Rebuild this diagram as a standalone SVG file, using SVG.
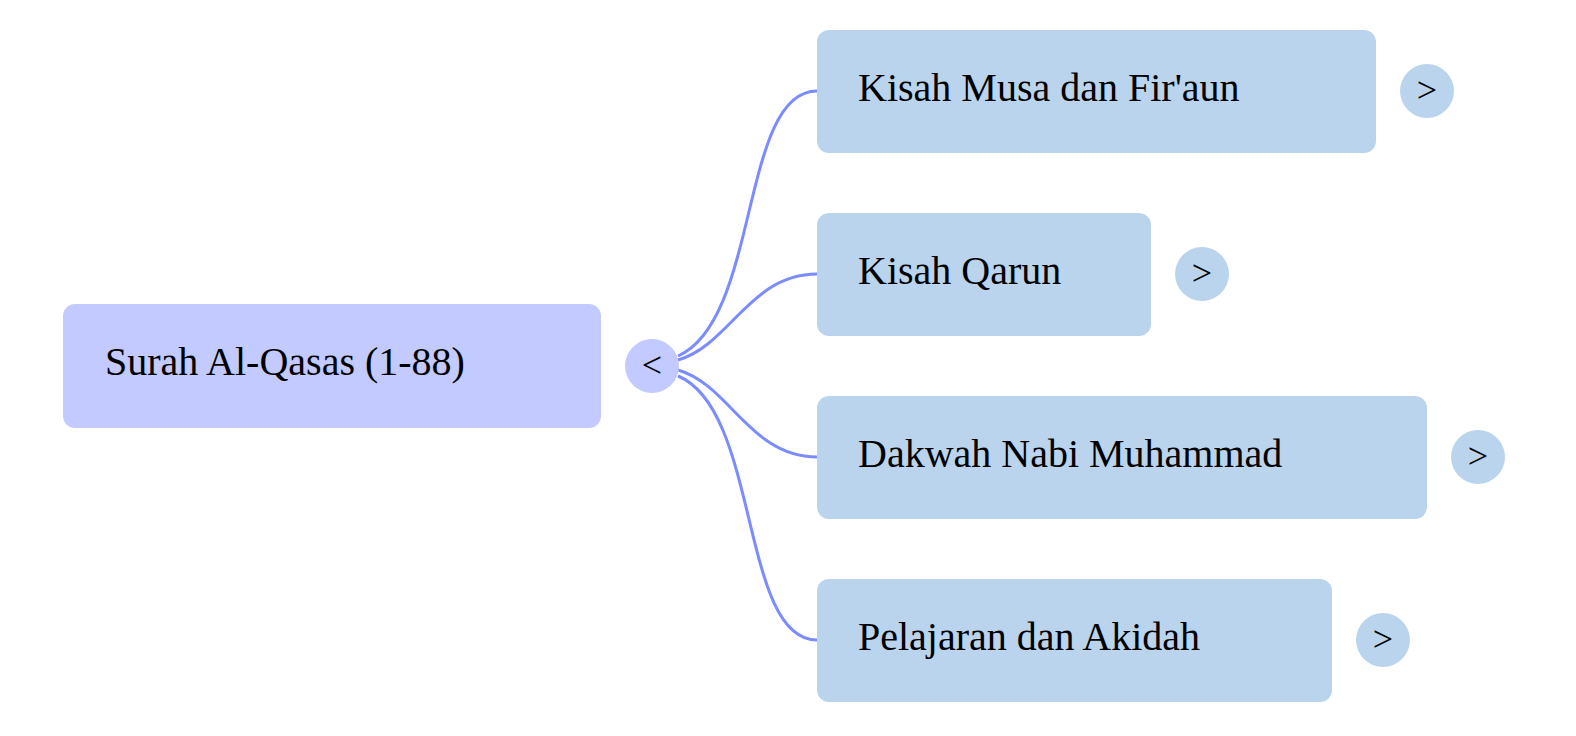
<svg xmlns="http://www.w3.org/2000/svg" width="1576" height="736" viewBox="0 0 1576 736">
<style>
text{font-family:"Liberation Serif",serif;font-size:40px;fill:#000}
.root{fill:#c2caff}
.child{fill:#bad4ee}
.c{fill:none;stroke:#7b8cff;stroke-width:3}
.t{text-anchor:middle;font-size:36px}
</style>
<rect width="1576" height="736" fill="#fff"/>
<g id="connectors">
<path class="c" d="M678,356 C760,320 740,91 817,91"/>
<path class="c" d="M678,360 C730,345 750,274 817,274"/>
<path class="c" d="M678,370 C730,385 750,457 817,457"/>
<path class="c" d="M678,376 C760,410 740,640 817,640"/>
</g>
<g id="root">
<rect class="root" x="63" y="304" width="538" height="124" rx="12"/>
<text x="105" y="375">Surah Al-Qasas (1-88)</text>
<circle class="root" cx="652" cy="366" r="27"/>
<text class="t" x="652" y="377">&lt;</text>
</g>
<g id="n1">
<rect class="child" x="817" y="30" width="559" height="123" rx="12"/>
<text x="858" y="101">Kisah Musa dan Fir'aun</text>
<circle class="child" cx="1427" cy="91" r="27"/>
<text class="t" x="1427" y="102">&gt;</text>
</g>
<g id="n2">
<rect class="child" x="817" y="213" width="334" height="123" rx="12"/>
<text x="858" y="284">Kisah Qarun</text>
<circle class="child" cx="1202" cy="274" r="27"/>
<text class="t" x="1202" y="285">&gt;</text>
</g>
<g id="n3">
<rect class="child" x="817" y="396" width="610" height="123" rx="12"/>
<text x="858" y="467">Dakwah Nabi Muhammad</text>
<circle class="child" cx="1478" cy="457" r="27"/>
<text class="t" x="1478" y="468">&gt;</text>
</g>
<g id="n4">
<rect class="child" x="817" y="579" width="515" height="123" rx="12"/>
<text x="858" y="650">Pelajaran dan Akidah</text>
<circle class="child" cx="1383" cy="640" r="27"/>
<text class="t" x="1383" y="651">&gt;</text>
</g>
</svg>
